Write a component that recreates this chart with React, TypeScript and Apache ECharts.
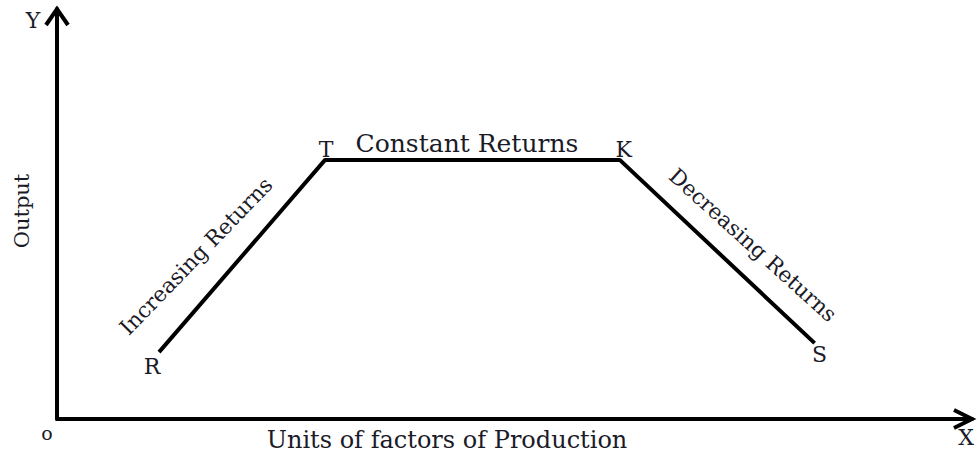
import React, { useEffect, useRef } from "react";
import * as echarts from "echarts";

const pointNames = ["R", "T", "K", "S"];
const xValues = [11.15, 29.3, 61.5, 82.8];
const yValues = [16.3, 63.2, 63.2, 18.5];
const segmentLabels = ["Increasing Returns", "Constant Returns", "Decreasing Returns"];
const axisTitles = { x: "Units of factors of Production", y: "Output" };

const FONT = "DejaVu Serif";
const INK = "#1b1b28";

export default function App() {
  const ref = useRef<HTMLDivElement>(null);
  useEffect(() => {
    if (!ref.current) return;
    const chart = echarts.init(ref.current, null, { renderer: "svg" });
    const labelOffsets: Record<string, number[]> = {
      R: [-7, 14],
      T: [1, -10],
      K: [4, -10],
      S: [5, 11],
    };
    const data = xValues.map((x, i) => ({
      value: [x, yValues[i]],
      name: pointNames[i],
    }));
    chart.setOption({
      animation: false,
      grid: { left: 57, right: 7, top: 9, bottom: 38 },
      xAxis: {
        type: "value",
        min: 0,
        max: 100,
        axisLine: { show: true, onZero: false, lineStyle: { color: "#000", width: 4 } },
        axisTick: { show: false },
        axisLabel: { show: false },
        splitLine: { show: false },
      },
      yAxis: {
        type: "value",
        min: 0,
        max: 100,
        axisLine: { show: true, onZero: false, lineStyle: { color: "#000", width: 4 } },
        axisTick: { show: false },
        axisLabel: { show: false },
        splitLine: { show: false },
      },
      series: [
        {
          type: "line",
          data: data.map((d) => d.value),
          symbol: "none",
          lineStyle: { color: "#000", width: 4 },
        },
        {
          type: "scatter",
          symbolSize: 0,
          itemStyle: { opacity: 1 },
          data: data.map((d) => ({
            ...d,
            label: {
              show: true,
              formatter: d.name,
              position: "inside",
              offset: labelOffsets[d.name],
              fontFamily: FONT,
              fontSize: 22,
              color: INK,
              opacity: 1,
              textBorderWidth: 0,
            },
          })),
        },
      ],
      graphic: [
        { type: "polyline", shape: { points: [[46, 25], [57, 9], [68, 25]] }, style: { stroke: "#000", lineWidth: 4, fill: null } },
        { type: "polyline", shape: { points: [[954, 410], [972, 419], [954, 428]] }, style: { stroke: "#000", lineWidth: 4, fill: null } },
        { type: "text", x: 33, y: 20, style: { text: "Y", font: `22px '${FONT}'`, fill: INK, align: "center", verticalAlign: "middle" } },
        { type: "text", x: 966, y: 437, style: { text: "X", font: `22px '${FONT}'`, fill: INK, align: "center", verticalAlign: "middle" } },
        { type: "text", x: 47, y: 433, style: { text: "o", font: `19px '${FONT}'`, fill: INK, align: "center", verticalAlign: "middle" } },
        { type: "text", x: 447, y: 440, style: { text: axisTitles.x, font: `24px '${FONT}'`, fill: INK, align: "center", verticalAlign: "middle" } },
        { type: "text", x: 22, y: 211, rotation: Math.PI / 2, style: { text: axisTitles.y, font: `21px '${FONT}'`, fill: INK, align: "center", verticalAlign: "middle" } },
        { type: "text", x: 196, y: 256, rotation: (46 * Math.PI) / 180, style: { text: segmentLabels[0], font: `21.5px '${FONT}'`, fill: INK, align: "center", verticalAlign: "middle" } },
        { type: "text", x: 467, y: 143, style: { text: segmentLabels[1], font: `25px '${FONT}'`, fill: INK, align: "center", verticalAlign: "middle" } },
        { type: "text", x: 753, y: 245, rotation: (-42 * Math.PI) / 180, style: { text: segmentLabels[2], font: `21.5px '${FONT}'`, fill: INK, align: "center", verticalAlign: "middle" } },
      ],
    });
    return () => chart.dispose();
  }, []);
  return <div ref={ref} style={{ width: 979, height: 457, position: "absolute", left: 0, top: 0 }} />;
}
